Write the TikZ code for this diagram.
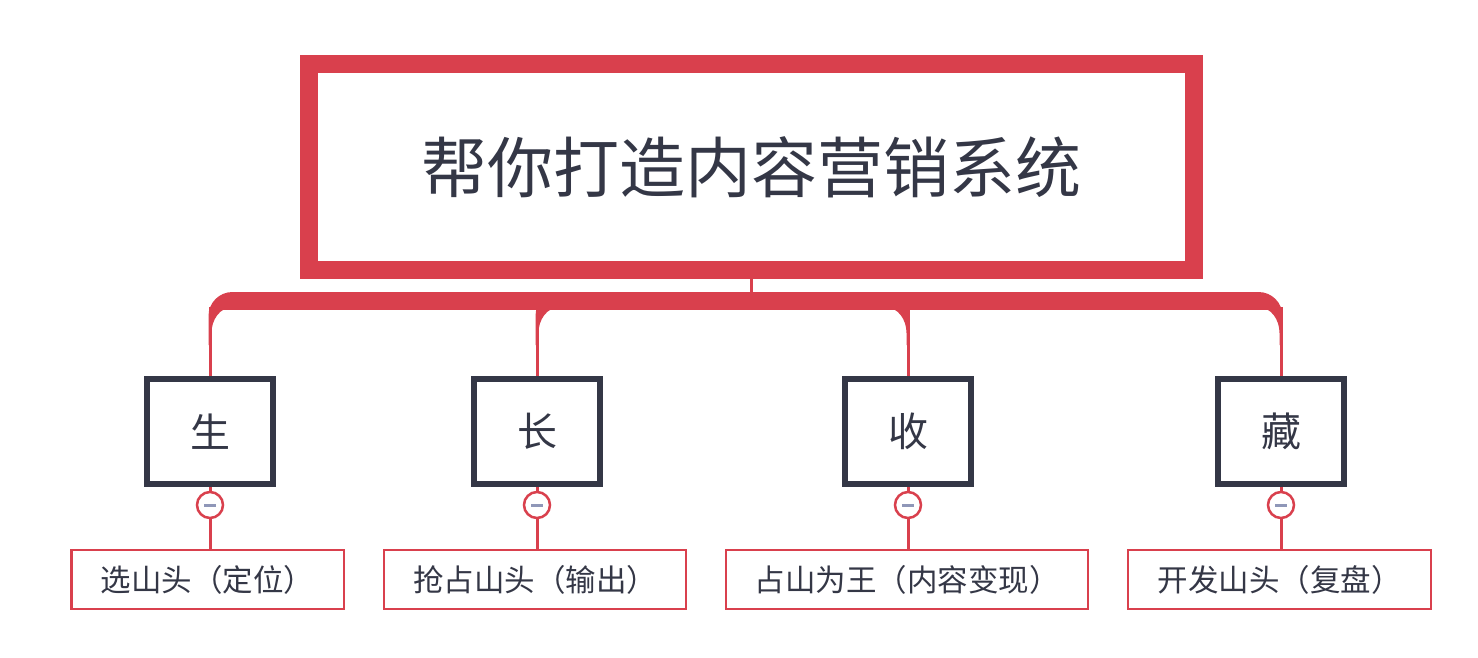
\documentclass[tikz,border=0pt]{standalone}
\usepackage{fontspec}
\setmainfont{Noto Sans CJK SC}
\definecolor{cred}{HTML}{D9404D}
\definecolor{cdark}{HTML}{343746}
\definecolor{cminus}{HTML}{8F97B8}
\pgfdeclarelayer{bg}
\pgfdeclarelayer{paper}
\pgfsetlayers{paper,bg,main}
\tikzset{
  rootbox/.style={draw=cred, line width=18pt, fill=white, minimum width=885pt, minimum height=206pt, inner sep=0pt, text=cdark, font=\fontsize{66}{72}\selectfont},
  catbox/.style={draw=cdark, line width=6pt, fill=white, minimum width=126pt, minimum height=105pt, inner sep=0pt, text=cdark, font=\fontsize{40}{44}\selectfont},
  leafbox/.style={draw=cred, line width=2.5pt, fill=white, minimum height=59pt, inner sep=0pt, text=cdark, font=\fontsize{30.5}{34}\selectfont},
  toggle/.style={circle, draw=cred, line width=2.5pt, fill=white, minimum size=26pt, inner sep=0pt,
    path picture={\draw[cminus, line width=3pt] ([xshift=-6pt]path picture bounding box.center) -- ([xshift=6pt]path picture bounding box.center);}},
  conn/.style={draw=cred, line width=3pt},
  bus/.style={fill=cred},
}
\begin{document}
\begin{tikzpicture}[x=1pt,y=-1pt]
\begin{pgfonlayer}{paper}
\useasboundingbox[fill=white] (0,0) rectangle (1478,658);
\end{pgfonlayer}

\node[rootbox] (root) at (751.5,167) {帮你打造内容营销系统};

\node[catbox] (c1) at (210,431.5) {生};
\node[catbox] (c2) at (537,431.5) {长};
\node[catbox] (c3) at (908,431.5) {收};
\node[catbox] (c4) at (1281,431.5) {藏};

\node[toggle] (t1) at (210,505) {};
\node[toggle] (t2) at (537,505) {};
\node[toggle] (t3) at (908,505) {};
\node[toggle] (t4) at (1281,505) {};

\node[leafbox, minimum width=272.5pt] (l1) at (207.5,579.5) {选山头（定位）};
\node[leafbox, minimum width=302pt] (l2) at (535,579.5) {抢占山头（输出）};
\node[leafbox, minimum width=362pt] (l3) at (907,579.5) {占山为王（内容变现）};
\node[leafbox, minimum width=303pt] (l4) at (1279.5,579.5) {开发山头（复盘）};

\begin{pgfonlayer}{bg}
  % tapered bus branches
  \foreach \xc/\d in {210/-1, 537/-1, 908/1, 1281/1} {
    \fill[bus] (752,292) -- ({\xc+\d*1.5-\d*24},292)
      .. controls ({\xc+\d*1.5-\d*10.75},292) and ({\xc+\d*1.5},302.75) .. ({\xc+\d*1.5},316)
      -- ({\xc+\d*1.5},345) -- ({\xc-\d*1.5},345) -- ({\xc-\d*1.5},333)
      .. controls ({\xc-\d*1.5},320) and ({\xc-\d*1.5-\d*8},307) .. ({\xc-\d*1.5-\d*22},307)
      -- (752,307) -- cycle;
  }
  \foreach \i in {1,2,3,4} {
    \draw[conn] (root.south) -- ++(0,29.5) -| (c\i.north);
    \draw[conn] (c\i.south) -- (t\i.north);
    \draw[conn] (t\i.south) -- (t\i.south |- l\i.north);
  }
\end{pgfonlayer}
\end{tikzpicture}
\end{document}
